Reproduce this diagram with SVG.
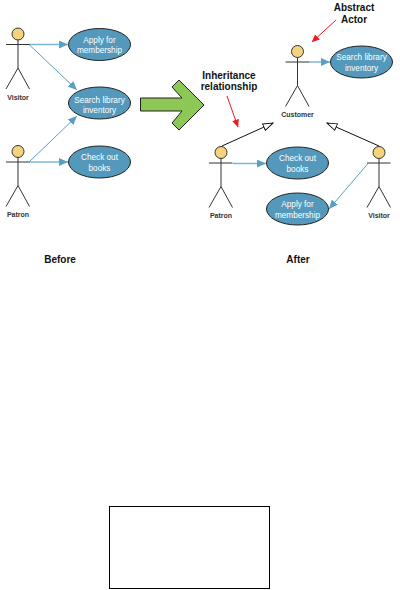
<svg xmlns="http://www.w3.org/2000/svg" width="400" height="590" viewBox="0 0 400 590">
<style>
text{font-family:"Liberation Sans",Arial,sans-serif;text-anchor:middle}
.uc{fill:#5499bb;stroke:#222;stroke-width:1}
.uct{fill:#fff;font-size:8.2px}
.head{fill:#f5d27c;stroke:#333;stroke-width:1}
.stick{fill:none;stroke:#333;stroke-width:1}
.al{font-size:7px;font-weight:bold;fill:#333}
.note{font-size:10px;font-weight:bold;fill:#111}
.assoc{fill:none;stroke:#5aa0c4;stroke-width:1}
.assoch{fill:none;stroke:#7db8d6;stroke-width:1.500}
.inh{fill:none;stroke:#111;stroke-width:1}
.red{fill:none;stroke:#ee1c25;stroke-width:1}
</style>
<defs>
<marker id="a" markerUnits="userSpaceOnUse" markerWidth="10" markerHeight="8" refX="9" refY="4" orient="auto"><path d="M0,0L9,4L0,8Z" fill="#5aa0c4"/></marker>
<marker id="t" markerUnits="userSpaceOnUse" markerWidth="12" markerHeight="8" refX="10.500" refY="4" orient="auto"><path d="M0.500,0.500L10.500,4L0.500,7.500Z" fill="#fff" stroke="#111"/></marker>
<marker id="r" markerUnits="userSpaceOnUse" markerWidth="8" markerHeight="7" refX="7.500" refY="3.500" orient="auto"><path d="M0,0L8,3.500L0,7Z" fill="#ee1c25"/></marker>
<g id="stick"><circle class="head" cx="0" cy="0" r="6"/><path class="stick" d="M-12,10.500H11.500M0,6V34L-12,55M0,34L11.500,55"/></g>
</defs>
<g id="connectors">
<path class="assoch" marker-end="url(#a)" d="M29,44.500H68"/>
<path class="assoc" marker-end="url(#a)" d="M29,44.500L77,90"/>
<path class="assoc" marker-end="url(#a)" d="M29,162L77,116"/>
<path class="assoch" marker-end="url(#a)" d="M29,162H68"/>
<path class="assoch" marker-end="url(#a)" d="M309,62H330"/>
<path class="assoch" marker-end="url(#a)" d="M233,163.500H266"/>
<path class="assoc" marker-end="url(#a)" d="M368,163.500L329,209"/>
<path class="inh" marker-end="url(#t)" d="M222,146L273,123"/>
<path class="inh" marker-end="url(#t)" d="M379,146L327,123"/>
<path class="red" marker-end="url(#r)" d="M336,20L312,42"/>
<path class="red" marker-end="url(#r)" d="M227,96L238,127"/>
</g>
<g id="actor-visitor-before"><use href="#stick" x="18" y="34"/><text class="al" x="18" y="100">Visitor</text></g>
<g id="actor-patron-before"><use href="#stick" x="18" y="151.500"/><text class="al" x="18" y="217">Patron</text></g>
<g id="actor-customer"><use href="#stick" x="297.500" y="51.500"/><text class="al" x="297.500" y="117">Customer</text></g>
<g id="actor-patron-after"><use href="#stick" x="221" y="152.500"/><text class="al" x="221" y="218">Patron</text></g>
<g id="actor-visitor-after"><use href="#stick" x="379" y="152.500"/><text class="al" x="379" y="218">Visitor</text></g>
<g id="uc-apply-before"><ellipse class="uc" cx="99.500" cy="44.500" rx="31" ry="16"/><text class="uct" x="99.500" y="43">Apply for</text><text class="uct" x="99.500" y="53">membership</text></g>
<g id="uc-search-before"><ellipse class="uc" cx="99.500" cy="103" rx="31" ry="16"/><text class="uct" x="99.500" y="103">Search library</text><text class="uct" x="99.500" y="113">inventory</text></g>
<g id="uc-check-before"><ellipse class="uc" cx="99.500" cy="162" rx="31" ry="16"/><text class="uct" x="99.500" y="160">Check out</text><text class="uct" x="99.500" y="171">books</text></g>
<g id="uc-search-after"><ellipse class="uc" cx="361.500" cy="62" rx="31" ry="16"/><text class="uct" x="361.500" y="60">Search library</text><text class="uct" x="361.500" y="71">inventory</text></g>
<g id="uc-check-after"><ellipse class="uc" cx="297.500" cy="163" rx="31" ry="16"/><text class="uct" x="297.500" y="161">Check out</text><text class="uct" x="297.500" y="172">books</text></g>
<g id="uc-apply-after"><ellipse class="uc" cx="297.500" cy="209" rx="31" ry="16"/><text class="uct" x="297.500" y="207">Apply for</text><text class="uct" x="297.500" y="218">membership</text></g>
<g id="big-arrow"><polygon points="140.500,98 182,98 172,87 179,80 204,105 179,130 172,123 182,111 140.500,111" fill="#8dc756" stroke="#222" stroke-width="1"/></g>
<g id="label-abstract"><text class="note" x="354" y="11">Abstract</text><text class="note" x="354" y="23">Actor</text></g>
<g id="label-inheritance"><text class="note" x="229" y="79">Inheritance</text><text class="note" x="229" y="90">relationship</text></g>
<g id="label-before"><text class="note" x="60" y="263">Before</text></g>
<g id="label-after"><text class="note" x="298" y="263">After</text></g>
<g id="empty-box"><rect x="109.500" y="506.500" width="160" height="82" fill="#fff" stroke="#000" stroke-width="1"/></g>
</svg>
